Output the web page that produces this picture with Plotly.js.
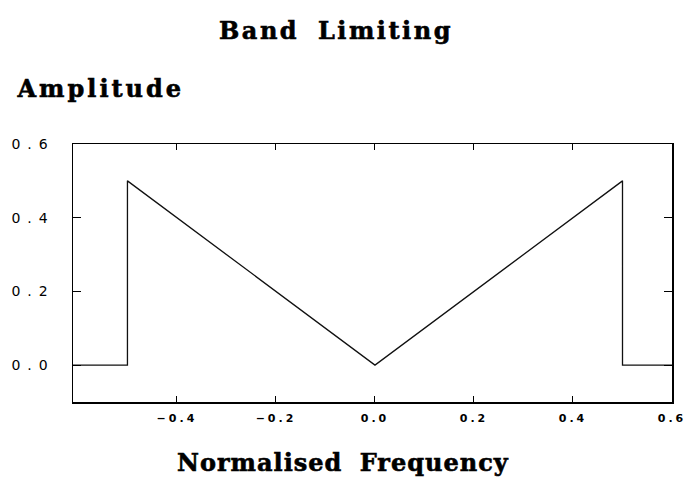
<!DOCTYPE html>
<html>
<head>
<meta charset="utf-8">
<script src="https://cdn.plot.ly/plotly-3.0.1.min.js"></script>
<style>
  html, body { margin: 0; padding: 0; background: #fff; }
  #chart { width: 687px; height: 481px; }
</style>
</head>
<body>
<div id="chart"></div>
<script>
// Data
var freq = [-0.61, -0.5, -0.5, 0.0, 0.5, 0.5, 0.6];
var amp  = [0.0, 0.0, 0.5, 0.0, 0.5, 0.0, 0.0];

var xTicks = [-0.4, -0.2, 0.0, 0.2, 0.4, 0.6];
var yTicks = [0.0, 0.2, 0.4, 0.6];

var titleText = "Band Limiting";
var yLabel = "Amplitude";
var xLabel = "Normalised Frequency";

var serifBold = {family: "DejaVu Serif", size: 24, color: "#000", weight: "bold"};

var trace = {
  x: freq, y: amp, type: "scatter", mode: "lines",
  line: {color: "#111", width: 1.3},
  hoverinfo: "skip", showlegend: false
};

var layout = {
  width: 687, height: 481,
  margin: {l: 73, r: 15, t: 144, b: 79},
  paper_bgcolor: "#fff", plot_bgcolor: "#fff",
  title: {
    text: titleText, font: serifBold,
    xref: "container", yref: "container",
    x: 336/687, y: 1 - 31/481, xanchor: "center", yanchor: "middle"
  },
  xaxis: {
    range: [-0.61, 0.6], tickvals: xTicks, tickformat: ".1f",
    ticks: "inside", ticklen: 6, tickwidth: 1, tickcolor: "#000",
    showline: true, linecolor: "#000", linewidth: 1.5, mirror: "ticks",
    showgrid: false, zeroline: false,
    tickfont: {family: "DejaVu Sans", size: 11, color: "#000", weight: "bold"},
    ticklabelstandoff: 5
  },
  yaxis: {
    range: [-0.1, 0.6], tickvals: yTicks, tickformat: ".1f",
    ticks: "inside", ticklen: 8, tickwidth: 1, tickcolor: "#000",
    showline: true, linecolor: "#000", linewidth: 1.5, mirror: "ticks",
    showgrid: false, zeroline: false,
    tickfont: {family: "DejaVu Sans", size: 14, color: "#000"},
    ticklabelstandoff: 14
  },
  annotations: [
    {text: yLabel, font: serifBold, xref: "paper", yref: "paper",
     x: (28 - 73)/599, y: (402 - 88)/258, xanchor: "left", yanchor: "middle", showarrow: false},
    {text: xLabel, font: serifBold, xref: "paper", yref: "paper",
     x: (343 - 73)/599, y: (402 - 462)/258, xanchor: "center", yanchor: "middle", showarrow: false}
  ]
};

Plotly.newPlot("chart", [trace], layout, {displayModeBar: false, staticPlot: true}).then(function () {
  document.querySelectorAll(".ytick text").forEach(function (t) { t.style.letterSpacing = "7px"; });
  document.querySelectorAll(".xtick text").forEach(function (t) { t.style.letterSpacing = "3px"; });
  document.querySelectorAll(".gtitle").forEach(function (t) {
    t.style.letterSpacing = "2.5px"; t.style.wordSpacing = "8px";
    t.style.stroke = "#000"; t.style.strokeWidth = "0.6px";
  });
  document.querySelectorAll(".annotation-text").forEach(function (t) {
    t.style.wordSpacing = "8px"; t.style.stroke = "#000"; t.style.strokeWidth = "0.6px";
    t.style.letterSpacing = (t.textContent === yLabel) ? "3px" : "1px";
  });
});
</script>
</body>
</html>
